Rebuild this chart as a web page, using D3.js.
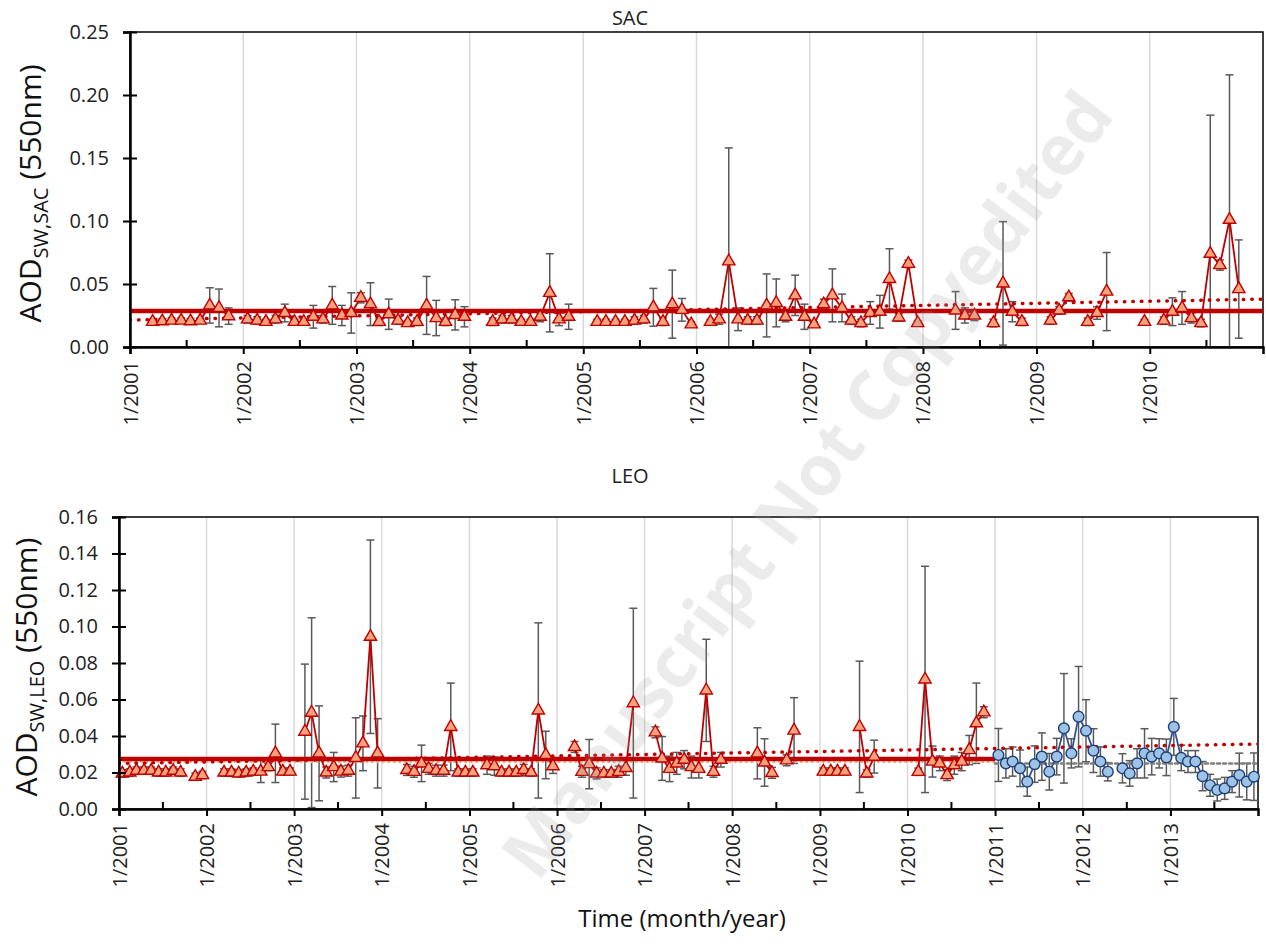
<!DOCTYPE html>
<html>
<head>
<meta charset="utf-8">
<script src="https://cdn.jsdelivr.net/npm/d3@7"></script>
<style>
  body { margin: 0; background: #fff; }
  svg { display: block; font-family: "Open Sans", sans-serif; }
</style>
</head>
<body>
<div id="chart"></div>
<script>
// monthly values, Jan 2001 .. Dec 2010 (null = no data)
const sacValues = [
  null, null, 0.020, 0.0205, 0.021, 0.021, 0.0205, 0.021, 0.033, 0.031, 0.0245, null,
  0.022, 0.021, 0.020, 0.022, 0.027, 0.020, 0.020, 0.024, 0.022, 0.033, 0.025, 0.027,
  0.039, 0.034, 0.020, 0.026, 0.021, 0.019, 0.020, 0.033, 0.023, 0.020, 0.0255, 0.024,
  null, null, 0.020, 0.022, 0.022, 0.020, 0.020, 0.024, 0.043, 0.022, 0.024, null,
  null, 0.020, 0.020, 0.020, 0.020, 0.021, 0.022, 0.0315, 0.020, 0.034, 0.0295, 0.018,
  null, 0.020, 0.022, 0.068, 0.022, 0.021, 0.021, 0.033, 0.035, 0.024, 0.041, 0.024,
  0.018, 0.034, 0.041, 0.031, 0.021, 0.019, 0.027, 0.028, 0.054, 0.0235, 0.066, 0.019,
  null, null, null, 0.029, 0.025, 0.025, null, 0.019, 0.0505, 0.028, 0.020, null,
  null, 0.021, 0.029, 0.0395, null, 0.020, 0.027, 0.044, null, null, null, 0.020,
  null, 0.021, 0.028, 0.031, 0.023, 0.019, 0.074, 0.065, 0.101, 0.046, null, null
];
const sacErrors = [
  0, 0, 0.002, 0.002, 0.002, 0.002, 0.002, 0.002, 0.014, 0.015, 0.0065, 0,
  0.003, 0.003, 0.002, 0.003, 0.007, 0.002, 0.002, 0.009, 0.003, 0.015, 0.008, 0.016,
  0.004, 0.017, 0.003, 0.012, 0.003, 0.002, 0.003, 0.023, 0.014, 0.003, 0.012, 0.008,
  0, 0, 0.003, 0.003, 0.003, 0.002, 0.002, 0.004, 0.031, 0.005, 0.010, 0,
  0, 0.002, 0.002, 0.002, 0.002, 0.003, 0.003, 0.015, 0.003, 0.027, 0.009, 0.002,
  0, 0.002, 0.004, 0.090, 0.009, 0.003, 0.003, 0.025, 0.019, 0.004, 0.016, 0.010,
  0.002, 0.004, 0.021, 0.011, 0.003, 0.003, 0.009, 0.013, 0.024, 0.003, 0.003, 0.002,
  0, 0, 0, 0.015, 0.006, 0.004, 0, 0.003, 0.049, 0.008, 0.003, 0,
  0, 0.003, 0.003, 0.003, 0, 0.003, 0.005, 0.031, 0, 0, 0, 0.002,
  0, 0.003, 0.011, 0.013, 0.004, 0.003, 0.110, 0.004, 0.115, 0.039, 0, 0
];

// LEO, Jan 2001 .. Dec 2010
const leoValues = [
  0.0195, 0.020, 0.021, 0.021, 0.021, 0.020, 0.020, 0.021, 0.020, null, 0.0177, 0.0186,
  null, null, 0.020, 0.020, 0.0195, 0.020, 0.0205, 0.0205, 0.023, 0.0305, 0.0205, 0.0205,
  null, 0.0424, 0.0528, 0.0305, 0.020, 0.023, 0.0205, 0.021, 0.028, 0.036, 0.0944, 0.0305,
  null, null, null, 0.0214, 0.0204, 0.025, 0.022, 0.021, 0.021, 0.045, 0.020, 0.020,
  0.020, null, 0.024, 0.0235, 0.020, 0.020, 0.020, 0.0214, 0.020, 0.054, 0.0296, 0.0235,
  null, null, 0.034, 0.0204, 0.0246, 0.0195, 0.0195, 0.0195, 0.0204, 0.0225, 0.058, null,
  null, 0.042, 0.0277, 0.022, 0.025, 0.027, 0.023, 0.022, 0.065, 0.0204, 0.027, null,
  null, null, null, 0.0305, 0.0255, 0.0198, null, 0.0267, 0.043, null, null, null,
  0.0205, 0.0205, 0.0205, 0.0205, null, 0.045, 0.0195, 0.0287, null, null, null, null,
  null, 0.0204, 0.071, 0.026, 0.025, 0.0186, 0.024, 0.026, 0.0323, 0.047, 0.053, null
];
const leoErrors = [
  0.002, 0.002, 0.002, 0.002, 0.002, 0.002, 0.002, 0.002, 0.002, 0, 0.002, 0.002,
  0, 0, 0.002, 0.002, 0.002, 0.002, 0.002, 0.006, 0.002, 0.016, 0.002, 0.002,
  0, 0.037, 0.052, 0.026, 0.003, 0.008, 0.003, 0.003, 0.022, 0.015, 0.053, 0.019,
  0, 0, 0, 0.003, 0.003, 0.010, 0.003, 0.003, 0.003, 0.024, 0.002, 0.002,
  0.002, 0, 0.005, 0.005, 0.002, 0.002, 0.002, 0.003, 0.002, 0.048, 0.013, 0.004,
  0, 0, 0.003, 0.003, 0.0135, 0.003, 0.002, 0.002, 0.003, 0.004, 0.052, 0,
  0, 0.003, 0.012, 0.007, 0.006, 0.005, 0.006, 0.005, 0.028, 0.003, 0.004, 0,
  0, 0, 0, 0.014, 0.013, 0.003, 0, 0.003, 0.018, 0, 0, 0,
  0.002, 0.002, 0.002, 0.002, 0, 0.036, 0.002, 0.009, 0, 0, 0, 0,
  0, 0.002, 0.062, 0.0085, 0.004, 0.003, 0.005, 0.005, 0.008, 0.022, 0.003, 0
];

// LEO, Jan 2011 .. Dec 2013 (second sensor, circles)
const leoNewValues = [
  0.0296, 0.025, 0.026, 0.0223, 0.015, 0.0246, 0.0287, 0.0204, 0.0287, 0.0442, 0.0305, 0.0506,
  0.0429, 0.032, 0.026, 0.0204, null, 0.0223, 0.0195, 0.025, 0.0305, 0.0287, 0.0305, 0.0283,
  0.045, 0.028, 0.026, 0.026, 0.018, 0.013, 0.0104, 0.0113, 0.015, 0.0186, 0.015, 0.0177
];
const leoNewErrors = [
  0.0145, 0.008, 0.008, 0.010, 0.008, 0.010, 0.013, 0.010, 0.010, 0.030, 0.008, 0.0275,
  0.017, 0.012, 0.008, 0.005, 0, 0.008, 0.007, 0.008, 0.0135, 0.010, 0.008, 0.010,
  0.0156, 0.007, 0.006, 0.006, 0.008, 0.006, 0.006, 0.006, 0.006, 0.012, 0.010, 0.013
];

// reference lines: [start year, end year, value at start, value at end]
const sacMeanLine = [2001, 2011, 0.0286, 0.0286];
const sacTrendLine = [2001, 2011, 0.0214, 0.038];
const leoMeanLine = [2001, 2011, 0.0274, 0.0274];
const leoFlatLine = [2001, 2011, 0.0258, 0.0258];
const leoNewFlatLine = [2011, 2014, 0.025, 0.025];
const leoTrendLine = [2001, 2014, 0.025, 0.0356];

const sacYTicks = [0, 0.05, 0.10, 0.15, 0.20, 0.25];
const leoYTicks = [0, 0.02, 0.04, 0.06, 0.08, 0.10, 0.12, 0.14, 0.16];

const red = '#c00000';
const salmon = '#f5a27d';

const svg = d3.select('#chart').append('svg')
  .attr('width', 1266)
  .attr('height', 944);

// turn a monthly list into dated points (mid month)
function monthly(startYear, values, errors) {
  return values.map((v, i) => ({
    date: new Date(startYear, i, 15),
    value: v,
    err: errors[i],
  }));
}

function drawPanel(cfg) {
  const g = svg.append('g');
  const x = d3.scaleTime()
    .domain([new Date(cfg.startYear, 0, 1), new Date(cfg.endYear, 0, 1)])
    .range([cfg.left, cfg.right]);
  const y = d3.scaleLinear()
    .domain([0, d3.max(cfg.yTicks)])
    .range([cfg.bottom, cfg.top]);

  const years = d3.range(cfg.startYear, cfg.endYear).map(yr => new Date(yr, 0, 1));
  const halfYears = d3.range(cfg.startYear, cfg.endYear).map(yr => new Date(yr, 6, 1));

  svg.append('clipPath').attr('id', 'clip-' + cfg.name)
    .append('rect')
    .attr('x', cfg.left).attr('y', cfg.top)
    .attr('width', cfg.right - cfg.left).attr('height', cfg.bottom - cfg.top);

  // vertical gridlines at each January
  g.append('g').selectAll('line')
    .data(years.slice(1))
    .enter().append('line')
    .attr('x1', d => x(d)).attr('x2', d => x(d))
    .attr('y1', cfg.top).attr('y2', cfg.bottom)
    .attr('stroke', '#d9d9d9').attr('stroke-width', 1.5);

  // plot frame
  g.append('rect')
    .attr('x', cfg.left).attr('y', cfg.top)
    .attr('width', cfg.right - cfg.left).attr('height', cfg.bottom - cfg.top)
    .attr('fill', 'none').attr('stroke', '#000').attr('stroke-width', 1.5);

  const plot = g.append('g').attr('clip-path', `url(#clip-${cfg.name})`);

  // error bars
  cfg.series.forEach(s => {
    const pts = s.points.filter(d => d.value != null && d.err > 0);
    const bars = plot.append('g').attr('stroke', '#595959').attr('stroke-width', 1.5);
    pts.forEach(d => {
      const cx = x(d.date);
      const y0 = y(d.value - d.err);
      const y1 = y(d.value + d.err);
      bars.append('line').attr('x1', cx).attr('x2', cx).attr('y1', y0).attr('y2', y1);
      bars.append('line').attr('x1', cx - 4).attr('x2', cx + 4).attr('y1', y1).attr('y2', y1);
      bars.append('line').attr('x1', cx - 4).attr('x2', cx + 4).attr('y1', y0).attr('y2', y0);
    });
  });

  // mean / trend lines
  cfg.refLines.forEach(r => {
    plot.append('line')
      .attr('x1', x(new Date(r.line[0], 0, 1)))
      .attr('x2', x(new Date(r.line[1], 0, 1)))
      .attr('y1', y(r.line[2]))
      .attr('y2', y(r.line[3]))
      .attr('stroke', r.color)
      .attr('stroke-width', r.width)
      .attr('stroke-linecap', r.dash ? 'round' : 'butt')
      .attr('stroke-dasharray', r.dash || null);
  });

  // series lines and markers
  cfg.series.forEach(s => {
    const line = d3.line()
      .defined(d => d.value != null)
      .x(d => x(d.date))
      .y(d => y(d.value));
    plot.append('path')
      .datum(s.points)
      .attr('d', line)
      .attr('fill', 'none')
      .attr('stroke', s.lineColor)
      .attr('stroke-width', 1.8);

    const marks = g.append('g').selectAll('path')
      .data(s.points.filter(d => d.value != null))
      .enter().append('path')
      .attr('transform', d => `translate(${x(d.date)},${y(d.value)})`)
      .attr('fill', s.fill)
      .attr('stroke', s.stroke)
      .attr('stroke-width', 1.4);
    if (s.shape === 'triangle') {
      marks.attr('d', d3.symbol().type(d3.symbolTriangle).size(66));
    } else {
      marks.attr('d', d3.symbol().type(d3.symbolCircle).size(90));
    }
  });

  // y axis
  const yAxis = g.append('g')
    .attr('transform', `translate(${cfg.left},0)`)
    .call(d3.axisLeft(y).tickValues(cfg.yTicks).tickFormat(d3.format('.2f')).tickSize(7).tickPadding(14));
  yAxis.select('.domain').attr('stroke-width', 2.5);
  yAxis.selectAll('.tick line').attr('x1', 7).attr('stroke-width', 2);
  yAxis.selectAll('.tick text')
    .attr('font-size', 20).attr('fill', '#222')
    .style('font-family', '"Open Sans", sans-serif');

  // x axis, major ticks down with rotated labels
  const xAxis = g.append('g')
    .attr('transform', `translate(0,${cfg.bottom})`)
    .call(d3.axisBottom(x).tickValues(years).tickFormat(d => `1/${d.getFullYear()}`).tickSizeOuter(0).tickSize(7));
  xAxis.select('.domain').attr('stroke-width', 2.5);
  xAxis.selectAll('.tick line').attr('stroke-width', 2);
  xAxis.selectAll('.tick text')
    .attr('font-size', 20).attr('fill', '#222')
    .style('font-family', '"Open Sans", sans-serif')
    .attr('text-anchor', 'end')
    .attr('dy', '0.35em')
    .attr('transform', 'translate(0,6) rotate(-90)')
    .attr('x', -8).attr('y', 0);

  // minor ticks at July, pointing up
  g.append('g')
    .attr('transform', `translate(0,${cfg.bottom})`)
    .call(d3.axisBottom(x).tickValues(halfYears).tickFormat('').tickSizeInner(-7).tickSizeOuter(0))
    .call(a => a.select('.domain').remove())
    .selectAll('.tick line').attr('stroke-width', 2);

  // title
  g.append('text')
    .attr('x', cfg.titleX).attr('y', cfg.titleY)
    .attr('text-anchor', 'middle')
    .attr('font-size', 20).attr('fill', '#222')
    .text(cfg.name);

  // y label
  const label = g.append('text')
    .attr('transform', `translate(${cfg.labelX},${(cfg.top + cfg.bottom) / 2 + 4}) rotate(-90)`)
    .attr('text-anchor', 'middle')
    .attr('font-size', 30).attr('fill', '#111');
  label.append('tspan').text('AOD');
  label.append('tspan').attr('font-size', 20).attr('dy', 7).text(cfg.sub);
  label.append('tspan').attr('dy', -7).text(' (550nm)');
}

drawPanel({
  name: 'SAC', sub: 'SW,SAC',
  startYear: 2001, endYear: 2011,
  left: 130, right: 1263, top: 32, bottom: 347,
  yTicks: sacYTicks,
  titleX: 630, titleY: 25, labelX: 41,
  series: [
    { points: monthly(2001, sacValues, sacErrors), shape: 'triangle', lineColor: red, fill: salmon, stroke: red },
  ],
  refLines: [
    { line: sacMeanLine, color: red, width: 4.5 },
    { line: sacTrendLine, color: red, width: 3.5, dash: '0.5 8' },
  ],
});

drawPanel({
  name: 'LEO', sub: 'SW,LEO',
  startYear: 2001, endYear: 2014,
  left: 119, right: 1258, top: 517, bottom: 809,
  yTicks: leoYTicks,
  titleX: 630, titleY: 483, labelX: 37,
  series: [
    { points: monthly(2001, leoValues, leoErrors), shape: 'triangle', lineColor: red, fill: salmon, stroke: red },
    { points: monthly(2011, leoNewValues, leoNewErrors), shape: 'circle', lineColor: '#2f5597', fill: '#9dc3e6', stroke: '#1f3f75' },
  ],
  refLines: [
    { line: leoFlatLine, color: '#f4b183', width: 2.5, dash: '0.5 5' },
    { line: leoNewFlatLine, color: '#7f7f7f', width: 2.5, dash: '3 3' },
    { line: leoMeanLine, color: red, width: 4.5 },
    { line: leoTrendLine, color: red, width: 3.5, dash: '0.5 8' },
  ],
});

// x axis title
svg.append('text')
  .attr('x', 682).attr('y', 927)
  .attr('text-anchor', 'middle')
  .attr('font-size', 24).attr('fill', '#111')
  .text('Time (month/year)');

// watermark of the source page
svg.append('text')
  .attr('transform', 'translate(812,488) rotate(-53)')
  .attr('text-anchor', 'middle')
  .attr('dominant-baseline', 'middle')
  .attr('font-size', 70).attr('font-weight', 700)
  .attr('fill', '#9a9a9a').attr('fill-opacity', 0.2)
  .text('Manuscript Not Copyedited');
</script>
</body>
</html>
